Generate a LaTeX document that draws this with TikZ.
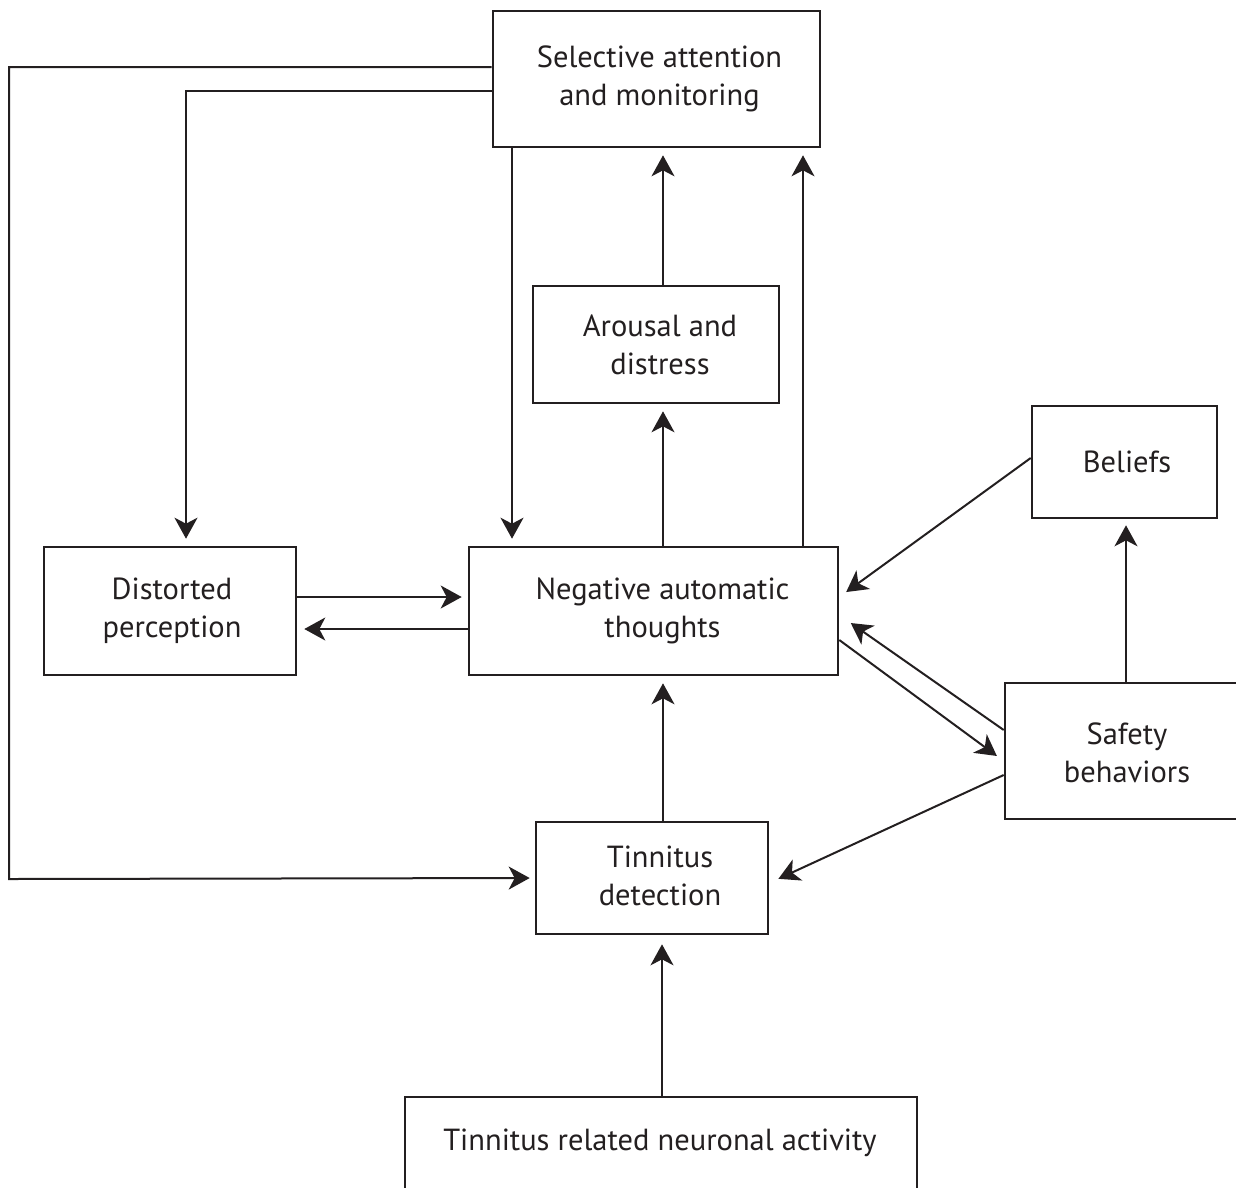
\documentclass[tikz,border=0pt]{standalone}
\usepackage{fontspec}
\setmainfont{PT Sans}
\usetikzlibrary{arrows.meta}
\definecolor{ink}{RGB}{35,31,32}
\begin{document}
\begin{tikzpicture}[x=1pt,y=-1pt,
  box/.style={draw=ink, line width=2.6pt, rectangle, inner sep=0pt},
  lbl/.style={text=ink, align=center, font=\fontsize{30.5}{38}\selectfont, inner sep=0pt},
  arr/.style={draw=ink, line width=2pt, shorten >=7pt, -{Stealth[length=21pt,width=23pt,inset=6pt]}}
]
\useasboundingbox (0,0) rectangle (1236,1187);
\clip (0,0) rectangle (1236,1187);

% boxes
\node[box, minimum width=327pt, minimum height=136pt] (sa) at (656.5,79) {};
\node[box, minimum width=246pt, minimum height=117pt] (ar) at (656,344.5) {};
\node[box, minimum width=185pt, minimum height=112pt] (bel) at (1124.5,462) {};
\node[box, minimum width=252pt, minimum height=128pt] (dp) at (170,611) {};
\node[box, minimum width=369pt, minimum height=128pt] (nat) at (653.5,611) {};
\node[box, minimum width=244pt, minimum height=136pt] (sb) at (1127,751) {};
\node[box, minimum width=232pt, minimum height=112pt] (td) at (652,878) {};
\node[box, minimum width=512pt, minimum height=94pt] (tn) at (661,1144) {};

% texts
\node[lbl] (saT) at (659.5,79) {Selective attention\\and monitoring};
\node[lbl] (arT) at (660,344.5) {Arousal and\\distress};
\node[lbl] (belT) at (1127,462) {Beliefs};
\node[lbl] (dpT) at (172,611) {Distorted\\perception};
\node[lbl] (natT) at (662.5,611) {Negative automatic\\thoughts};
\node[lbl] (sbT) at (1127,753) {Safety\\behaviors};
\node[lbl] (tdT) at (660,876) {Tinnitus\\detection};
\node[lbl] (tnT) at (660,1143) {Tinnitus related neuronal activity};

% corner coordinates
\coordinate (c1) at (9,879);

% connectors
\draw[arr, shorten >=5pt] ([yshift=12pt]sa.west) -| (c1) -- (td.west);
\draw[arr] ([yshift=-12pt]sa.west) -| ([xshift=16pt]dp.north);
\draw[arr] ([xshift=-144.5pt]sa.south) -- ([xshift=-141.5pt]nat.north);
\draw[arr] ([xshift=9.5pt]nat.north) -- ([xshift=7pt]ar.south);
\draw[arr] ([xshift=7pt]ar.north) -- ([xshift=6.5pt]sa.south);
\draw[arr] ([xshift=149.5pt]nat.north) -- ([xshift=146.5pt]sa.south);
\draw[arr] ([xshift=11pt]td.north) -- ([xshift=9.5pt]nat.south);
\draw[arr, shorten >=9pt] ([xshift=1pt]tn.north) -- ([xshift=10pt]td.south);
\draw[arr, shorten >=6pt] ([xshift=-1pt]sb.north) -- ([xshift=1.5pt]bel.south);
\draw[arr, shorten >=6pt] ([yshift=14pt]dp.east) -- ([yshift=14pt]nat.west);
\draw[arr] ([yshift=-18pt]nat.west) -- ([yshift=-18pt]dp.east);
\draw[arr, shorten >=8.5pt] ([yshift=4pt]bel.west) -- ([yshift=14pt]nat.east);
\draw[arr, shorten >=14pt] ([yshift=21pt]sb.west) -- ([yshift=-4pt]nat.east);
\draw[arr, shorten >=8.5pt] ([yshift=-29pt]nat.east) -- ([yshift=-10pt]sb.west);
\draw[arr, shorten >=10pt] ([yshift=-24pt]sb.west) -- ([yshift=-5pt]td.east);
\end{tikzpicture}
\end{document}
